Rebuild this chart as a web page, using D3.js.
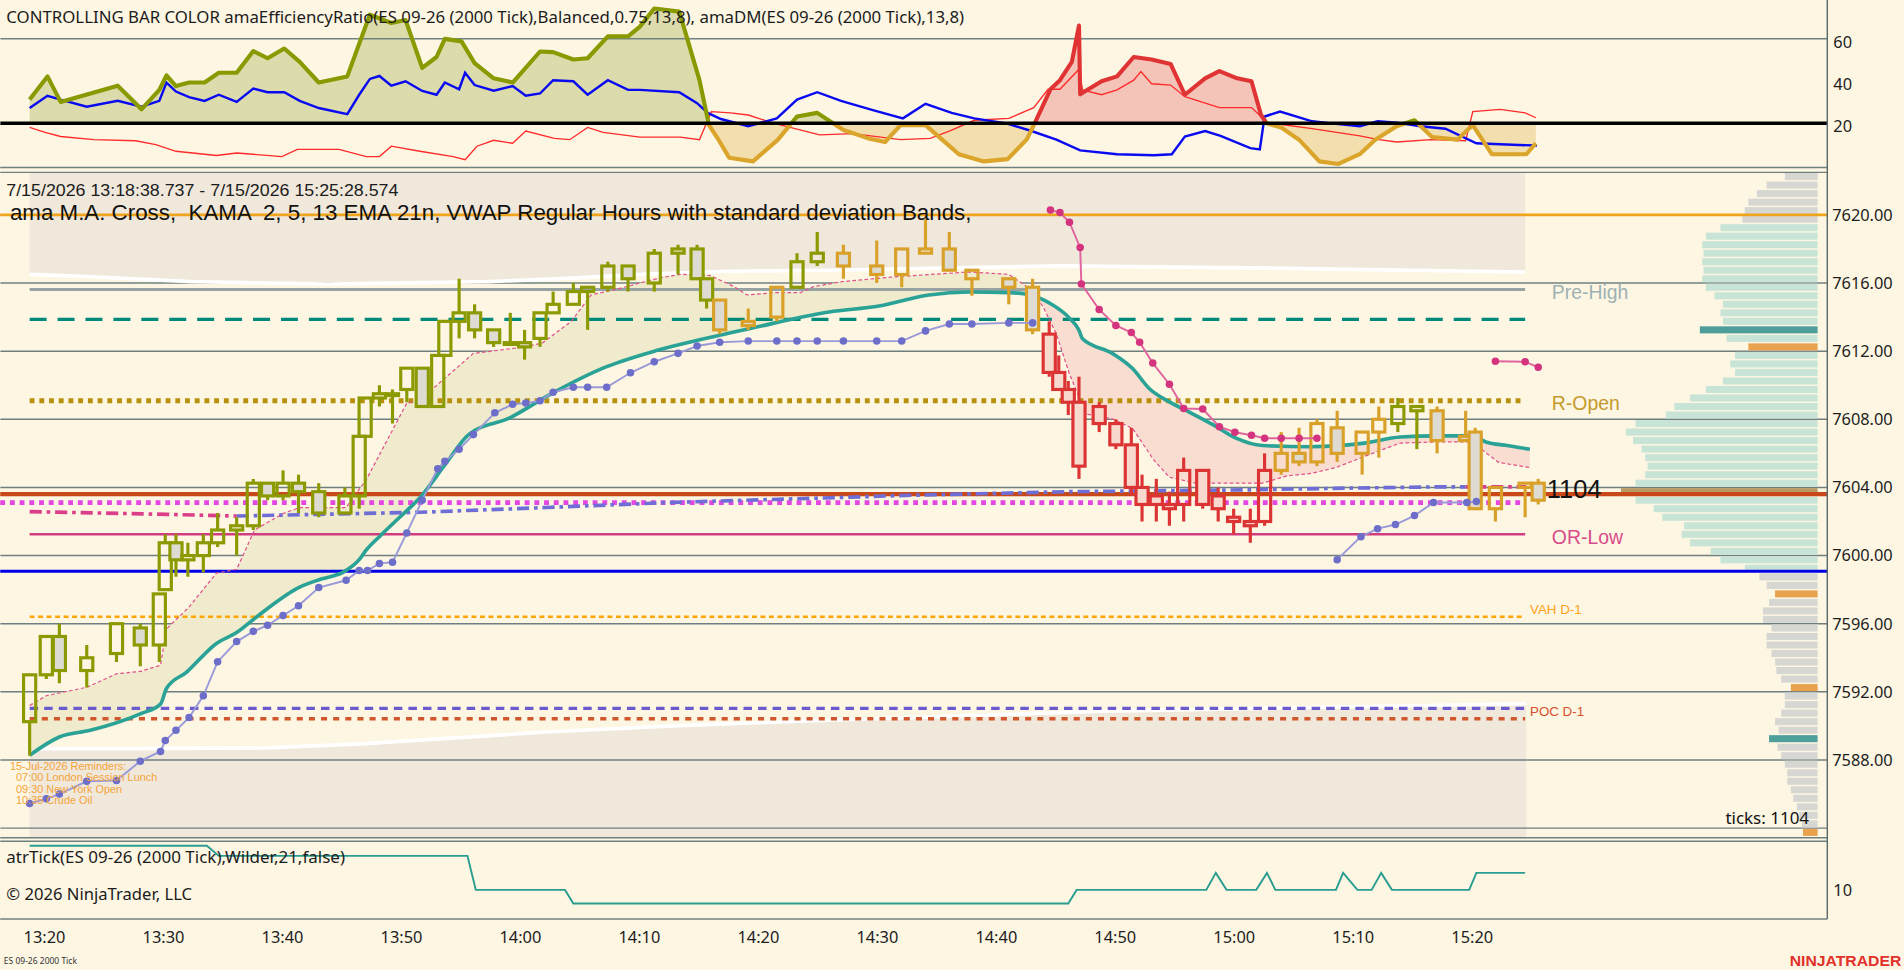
<!DOCTYPE html>
<html>
<head>
<meta charset="utf-8">
<title>ES 09-26 2000 Tick</title>
<script src="https://cdn.jsdelivr.net/npm/d3@7/dist/d3.min.js"></script>
<style>
  html, body { margin: 0; padding: 0; background: #fdf6e3; overflow: hidden; }
  svg { display: block; font-family: 'Noto Sans', 'DejaVu Sans', sans-serif; }
</style>
</head>
<body>
<svg id="chart"></svg>
<script>
// ---- data (time = minutes after 13:00, 7/15/2026) ----
const barTime = [18.8,20.2,21.3,23.6,26.1,28.1,29.7,30.2,31.1,32.1,33.4,34.6,36.2,37.6,38.8,40.1,41.4,43.1,45.3,46.5,
  47.0,48.2,49.3,50.5,51.8,53.1,53.7,54.9,56.2,57.8,59.2,60.4,61.7,62.8,64.5,65.7,67.4,69.1,71.3,73.3,
  74.9,75.7,76.8,79.2,81.6,83.3,85.0,87.2,90.0,92.1,94.1,96.1,98.0,101.1,103.1,104.5,105.3,106.1,107.0,108.7,
  110.1,111.4,112.3,113.5,114.6,115.8,117.4,118.7,120.0,121.4,122.6,124.0,125.5,127.0,128.7,130.8,132.2,133.8,135.4,137.1,
  139.5,140.3,142.0,144.5,145.6];
const barOpen = [7590.25,7593.00,7595.25,7593.25,7594.25,7595.75,7594.75,7598.00,7600.75,7599.75,
  7600.00,7600.75,7601.50,7601.75,7604.25,7603.50,7604.25,7603.75,7602.50,7603.50,
  7607.00,7609.25,7609.50,7609.75,7611.00,7608.75,7611.75,7613.75,7614.25,7613.25,
  7612.50,7612.50,7612.75,7614.25,7614.75,7615.50,7615.75,7617.00,7616.00,7617.75,
  7618.00,7616.25,7615.00,7613.75,7614.00,7615.75,7617.25,7617.75,7617.00,7616.50,
  7617.75,7618.00,7616.25,7616.25,7615.75,7613.00,7610.75,7609.75,7609.00,7608.75,
  7607.75,7606.50,7604.00,7603.50,7603.00,7603.00,7605.00,7603.50,7602.25,7602.00,
  7602.00,7605.00,7606.00,7605.50,7607.50,7606.00,7607.25,7607.75,7608.50,7608.50,
  7607.00,7607.25,7602.75,7604.00,7604.25];
const barHigh = [7593.00,7595.25,7596.00,7594.75,7596.00,7596.00,7597.75,7601.25,7601.25,7600.75,
  7601.25,7602.50,7602.25,7604.50,7604.25,7605.00,7604.75,7604.25,7604.00,7607.00,
  7609.25,7610.00,7609.75,7611.00,7611.00,7611.75,7613.75,7616.25,7614.75,7613.25,
  7614.25,7613.25,7614.25,7615.50,7616.00,7615.75,7617.25,7617.00,7618.00,7618.25,
  7618.25,7616.25,7615.00,7614.50,7615.75,7617.75,7619.00,7618.25,7618.50,7618.00,
  7619.75,7619.00,7616.75,7616.25,7616.25,7613.75,7611.75,7610.25,7610.50,7609.00,
  7608.00,7607.50,7604.75,7604.50,7603.75,7605.75,7605.00,7604.00,7602.75,7602.75,
  7606.00,7607.25,7607.50,7608.00,7608.50,7607.25,7608.75,7609.25,7608.75,7608.75,
  7608.50,7607.50,7604.00,7604.25,7604.50];
const barLow = [7588.25,7592.75,7592.50,7592.25,7593.75,7593.50,7593.75,7598.00,7598.75,7598.75,
  7599.00,7600.50,7600.00,7601.50,7603.25,7603.25,7602.50,7602.25,7602.50,7602.75,
  7607.00,7608.75,7607.75,7609.00,7608.75,7608.75,7611.75,7612.75,7612.75,7612.25,
  7612.50,7611.50,7612.25,7614.25,7614.75,7613.25,7615.50,7615.50,7615.50,7616.50,
  7616.25,7614.50,7613.00,7613.25,7613.75,7615.75,7617.00,7616.25,7616.00,7615.75,
  7617.75,7616.75,7615.25,7614.75,7613.00,7610.50,7609.75,7608.25,7604.50,7607.25,
  7606.25,7603.50,7602.00,7602.00,7601.75,7602.00,7602.75,7602.00,7601.25,7600.75,
  7601.75,7604.75,7605.25,7605.25,7605.50,7604.75,7605.75,7607.25,7606.25,7606.00,
  7606.75,7602.75,7602.00,7602.25,7603.00];
const barClose = [7593.00,7595.25,7593.25,7594.00,7596.00,7594.75,7597.75,7600.75,7599.75,7600.00,
  7600.75,7601.50,7601.75,7604.25,7603.50,7604.25,7603.75,7602.50,7603.50,7607.00,
  7609.25,7609.50,7609.50,7611.00,7608.75,7611.75,7613.75,7614.25,7613.25,7612.50,
  7612.50,7612.25,7614.25,7614.75,7615.50,7615.75,7617.00,7616.25,7617.75,7618.00,
  7616.25,7615.00,7613.25,7613.50,7615.75,7617.25,7617.75,7617.00,7616.50,7618.00,
  7618.00,7616.75,7616.75,7615.75,7613.25,7610.75,7609.75,7609.00,7605.25,7607.75,
  7606.50,7604.00,7603.00,7603.00,7602.75,7605.00,7603.00,7602.75,7602.00,7601.75,
  7605.00,7606.00,7605.50,7607.75,7606.00,7607.25,7608.00,7608.75,7608.75,7606.75,
  7606.75,7602.75,7604.00,7604.25,7603.25];
// bar colour state from the efficiency ratio: u = trending up, n = neutral, d = trending down
const barTrend = ('uuuuuuuuuuuuuuuuuuuuuuuuuuuuuuuuuuuuuuuuuu' + 'nnn' + 'uu' + 'nnnnnnnn' +
  'dddddddddddddddd' + 'nnnnnn' + 'uu' + 'nnnnnn').split('');

// 21 EMA (teal) and KAMA (thin dashed) ribbon
const emaLine = [[18.8,7588.28],[21.3,7589.35],[23.9,7589.74],[28.1,7590.71],[29.8,7591.28],[30.3,7592.20],[32.0,7593.16],
  [34.5,7594.84],[36.2,7595.48],[37.9,7596.41],[41.5,7598.15],[43.3,7598.62],[45.2,7599.04],[46.5,7599.76],[47.1,7600.33],
  [48.3,7601.18],[49.9,7602.25],[51.6,7603.39],[53.7,7605.32],[55.7,7607.10],[59.2,7608.10],[62.7,7609.52],[67.3,7611.09],
  [71.4,7612.02],[75.5,7612.73],[79.6,7613.37],[86.0,7614.30],[90.2,7614.65],[94.4,7615.30],[97.8,7615.47],[101.1,7615.44],
  [102.9,7615.30],[104.5,7614.83],[106.2,7613.94],[107.0,7613.23],[107.3,7612.73],[109.8,7611.87],[111.5,7610.98],
  [112.9,7609.81],[114.6,7609.02],[116.2,7608.45],[118.3,7607.67],[120.2,7606.89],[122.4,7606.46],[126.4,7606.39],
  [131.0,7606.60],[134.0,7606.96],[137.0,7607.03],[140.1,7607.03],[141.2,7606.67],[143.0,7606.46],[144.9,7606.24]];
const kamaLine = [[18.8,7591.20],[20.2,7591.77],[23.6,7592.27],[26.1,7593.06],[28.1,7593.20],[29.8,7593.56],[30.3,7595.69],
  [32.2,7596.98],[34.5,7598.97],[36.2,7599.19],[37.7,7601.50],[40.1,7602.47],[41.5,7602.82],[45.4,7602.82],[47.1,7604.46],
  [50.5,7608.95],[51.6,7609.13],[56.1,7611.87],[60.2,7612.23],[61.9,7612.48],[64.3,7613.73],[66.0,7615.30],[68.2,7615.65],
  [71.7,7616.29],[73.5,7616.51],[76.0,7616.44],[78.0,7615.79],[79.1,7615.30],[81.5,7615.44],[83.6,7615.44],[84.7,7615.79],
  [87.1,7616.08],[91.4,7616.36],[97.8,7616.65],[101.1,7616.51],[102.9,7615.65],[104.0,7614.58],[105.1,7613.01],
  [106.2,7610.66],[107.6,7608.31],[109.8,7608.03],[111.5,7607.46],[113.3,7605.60],[114.6,7604.60],[116.8,7604.25],
  [122.4,7604.25],[124.5,7604.68],[126.5,7604.82],[128.6,7605.17],[132.3,7606.17],[134.0,7606.60],[137.0,7606.67],
  [140.1,7606.67],[141.2,7606.03],[142.3,7605.46],[144.9,7605.17]];

// VWAP and its standard deviation bands
const vwapLine = [[18.8,7602.58],[30.3,7602.42],[36.2,7602.32],[51.6,7602.54],[62.2,7602.82],[72.4,7603.11],[82.7,7603.32],
  [92.9,7603.54],[106.1,7603.75],[121.3,7603.86],[129.7,7603.96],[137.0,7604.03],[139.5,7604.03],[144.6,7604.03]];
const vwapBelowUntil = 36.2, vwapBelowFrom = 139.5;
const vwapUpper = [[18.8,7616.51],[23.2,7616.40],[32.4,7616.08],[43.8,7615.94],[57.4,7616.08],[64.3,7616.29],[70.1,7616.51],
  [77.6,7616.69],[86.0,7616.75],[105.6,7617.01],[121.3,7616.89],[144.5,7616.65]];
const vwapLower = [[18.8,7588.67],[27.6,7588.67],[38.8,7588.71],[47.1,7588.96],[49.9,7589.09],[62.2,7589.64],[72.4,7589.99],
  [83.6,7590.28],[95.9,7590.56],[108.4,7590.85],[124.8,7591.06],[144.6,7591.30]];

// trailing stops
const stopLong1 = [[18.8,7585.45],[20.2,7585.72],[21.3,7586.00],[23.6,7586.75],[26.1,7586.79],[28.1,7587.93],[29.8,7588.50],
  [30.2,7589.14],[31.1,7589.74],[32.2,7590.49],[33.4,7591.77],[34.6,7593.77],[36.2,7594.95],[37.6,7595.55],[38.8,7595.91],
  [40.1,7596.48],[41.4,7597.05],[43.1,7598.12],[45.4,7598.55],[46.5,7599.12],[47.2,7599.12],[48.2,7599.54],[49.3,7599.61],
  [50.5,7601.33],[51.8,7603.25],[53.1,7605.10],[53.7,7605.53],[54.9,7606.24],[56.1,7607.10],[57.9,7608.38],[59.4,7608.88],
  [60.5,7608.95],[61.7,7609.09],[62.8,7609.59],[64.5,7609.88],[65.7,7609.88],[67.3,7609.88],[69.3,7610.73],[71.3,7611.38],
  [73.3,7611.87],[74.9,7612.30],[76.8,7612.52],[79.2,7612.59],[81.6,7612.59],[83.3,7612.59],[85.0,7612.59],[87.2,7612.59],
  [90.0,7612.59],[92.1,7612.59],[94.1,7613.19],[96.1,7613.59],[98.0,7613.59],[101.1,7613.66],[103.1,7613.66]];
const stopLong2 = [[128.7,7599.76],[130.7,7601.11],[132.1,7601.58],[133.6,7601.82],[135.2,7602.35],[136.8,7603.11],
  [139.6,7603.11],[140.4,7603.18]];
const stopShort1 = [[104.6,7620.29],[105.4,7620.14],[106.2,7619.57],[107.1,7618.08],[107.2,7615.94],[108.7,7614.44],
  [110.1,7613.51],[111.4,7613.09],[112.1,7612.52],[113.2,7611.30],[114.6,7610.06],[115.8,7608.63],[117.4,7608.60],
  [118.8,7607.56],[120.1,7607.24],[121.5,7607.06],[122.6,7606.89],[124.0,7606.89],[125.5,7606.89],[127.0,7606.89]];
const stopShort2 = [[142.0,7611.41],[144.5,7611.38],[145.6,7611.05]];

// horizontal reference levels
const sessionStart = 18.8, sessionEnd = 144.5;
const levelKeys   = ['r1','preHigh','pivot','rOpen','s1','vwapD1','orLow','pp','vahD1','val','pocD1'];
const levelPrices = [7620.00,7615.62,7613.87,7609.09,7603.61,7603.11,7601.25,7599.08,7596.41,7591.03,7590.42];
const levelLabels = {preHigh:'Pre-High', rOpen:'R-Open', orLow:'OR-Low', vahD1:'VAH D-1', pocD1:'POC D-1'};

// volume profile (0.5 pt bins)
const vpPrice = [7622.25,7621.75,7621.25,7620.75,7620.25,7619.75,7619.25,7618.75,7618.25,7617.75,
  7617.25,7616.75,7616.25,7615.75,7615.25,7614.75,7614.25,7613.75,7613.25,7612.75,
  7612.25,7611.75,7611.25,7610.75,7610.25,7609.75,7609.25,7608.75,7608.25,7607.75,
  7607.25,7606.75,7606.25,7605.75,7605.25,7604.75,7604.25,7603.75,7603.25,7602.75,
  7602.25,7601.75,7601.25,7600.75,7600.25,7599.75,7599.25,7598.75,7598.25,7597.75,
  7597.25,7596.75,7596.25,7595.75,7595.25,7594.75,7594.25,7593.75,7593.25,7592.75,
  7592.25,7591.75,7591.25,7590.75,7590.25,7589.75,7589.25,7588.75,7588.25,7587.75,
  7587.25,7586.75,7586.25,7585.75,7585.25,7584.75,7584.25,7583.75];
const vpVolume = [27,42,50,57,60,62,80,92,95,94, 95,94,95,92,85,78,80,78,97,75,
  57,68,72,68,78,92,105,118,125,150, 158,152,145,142,140,142,150,162,150,135,
  128,110,112,105,88,80,60,48,42,35, 40,45,45,38,42,42,38,35,34,30,
  22,27,27,30,35,32,40,33,30,27, 25,25,22,20,17,15,13,12];
const vpHigh = 7619.25, vpLow = 7599.25, vpPoc = 7603.75;
const vpTealLevels = [7613.25, 7589.25];
const vpOrangeLevels = [7612.25, 7597.75, 7592.25, 7583.75];

// top panel: amaEfficiencyRatio (thick) and amaDM +/-
const effRatio = [[18.8,31.2],[20.3,42.2],[21.4,30.1],[26.2,37.8],[28.2,26.6],[29.7,35.8],[30.3,42.7],[31.1,37.6],[32.2,39.3],
  [33.5,39.3],[34.7,43.9],[36.2,43.9],[37.6,54.2],[38.8,50.8],[40.2,55.4],[41.5,49.1],[43.1,39.3],[45.5,42.2],[46.5,57.7],
  [47.4,71.5],[49.2,67.5],[50.4,68.9],[51.8,46.2],[53.0,51.4],[53.7,60.0],[55.1,58.8],[56.2,48.5],[57.8,41.3],[59.4,39.3],
  [61.7,54.0],[62.8,53.7],[64.5,50.2],[65.7,50.8],[67.4,61.2],[69.1,61.2],[70.1,65.8],[71.3,74.4],[73.4,72.9],[75.1,40.4],
  [75.9,19.1],[76.7,12.2],[77.6,3.6],[79.6,1.9],[81.7,12.2],[83.3,23.2],[85.0,24.9],[87.2,16.8],[89.3,12.8],[90.7,11.1],
  [92.0,19.1],[94.1,19.1],[95.5,12.2],[96.9,5.3],[99.0,1.9],[101.0,3.0],[102.6,12.2],[103.2,19.1],[104.6,36.1],[105.4,40.4],
  [106.4,49.1],[107.0,66.3],[107.1,33.7],[108.9,39.9],[110.2,42.2],[111.6,51.4],[113.1,50.2],[114.7,48.1],[115.9,33.5],
  [117.6,41.3],[118.8,44.7],[120.3,41.3],[121.5,39.9],[122.3,23.9],[122.8,19.9],[124.0,18.0],[125.5,12.2],[127.2,1.9],
  [128.8,0.7],[130.6,5.3],[131.9,12.2],[133.7,18.6],[135.2,21.4],[136.7,13.4],[138.8,12.2],[140.1,19.1],[141.7,5.3],
  [144.6,5.3],[145.4,10.5]];
const erDownFrom = 103.2, erDownTo = 122.8;
const dmPlus = [[18.8,27.2],[20.3,33.0],[21.4,31.2],[23.6,27.8],[26.2,30.6],[28.2,27.8],[29.7,30.6],[30.3,39.3],[31.1,35.0],
  [32.2,32.4],[33.5,30.6],[34.7,33.5],[36.2,30.1],[37.6,36.4],[38.8,34.7],[40.2,34.7],[41.5,30.6],[43.1,27.2],[45.5,24.3],
  [46.5,33.5],[47.4,41.0],[48.2,42.4],[49.2,37.8],[50.4,39.9],[51.8,35.3],[53.0,33.5],[53.7,39.3],[54.9,36.1],[55.4,43.9],
  [56.2,38.1],[57.8,35.4],[59.4,37.6],[60.5,33.0],[61.7,34.1],[62.8,40.4],[64.5,39.9],[65.7,33.5],[67.4,40.4],[69.1,35.8],
  [70.1,35.8],[73.4,34.7],[74.9,29.5],[75.8,24.9],[76.9,22.0],[79.2,18.6],[81.6,22.3],[83.3,31.2],[85.0,34.7],[87.0,30.6],
  [89.6,26.3],[92.2,22.3],[94.1,29.2],[96.3,24.9],[98.2,22.3],[100.9,19.9],[103.0,16.3],[105.1,12.2],[107.1,7.1],[110.2,5.3],
  [113.3,4.8],[114.8,5.3],[115.9,13.7],[117.6,16.3],[118.9,14.0],[121.4,8.2],[122.2,7.6],[122.6,23.2],[123.9,25.5],
  [126.6,20.9],[128.6,19.7],[130.6,18.6],[132.1,20.9],[133.7,20.3],[135.7,18.6],[137.8,17.4],[140.4,10.5],[142.9,9.9],
  [145.5,9.4]];
const dmMinus = [[18.8,18.0],[20.1,15.7],[21.4,13.7],[24.2,12.2],[27.7,11.7],[29.4,9.9],[31.1,6.7],[34.5,4.7],[36.2,5.9],
  [40.0,4.2],[41.3,7.6],[44.8,7.6],[47.1,4.2],[48.2,4.2],[49.2,9.1],[51.6,6.7],[54.4,4.2],[55.4,2.7],[56.4,9.1],[57.8,11.9],
  [59.4,10.5],[60.5,16.3],[62.9,12.8],[64.2,12.2],[65.7,18.0],[67.0,15.7],[70.1,13.4],[73.5,13.4],[75.1,12.2],[76.1,25.5],
  [77.7,24.9],[79.2,23.9],[81.4,19.9],[85.2,14.5],[88.0,15.1],[92.0,12.2],[94.5,12.8],[96.1,16.3],[98.2,21.4],[101.1,22.3],
  [103.2,27.4],[104.4,36.1],[105.4,36.1],[107.0,45.6],[107.3,35.8],[108.9,33.5],[110.2,35.8],[111.6,40.4],[112.2,44.5],
  [113.1,38.7],[114.7,38.1],[115.9,32.6],[118.8,27.4],[121.5,27.4],[122.3,23.2],[122.8,20.3],[126.6,17.4],[130.6,14.0],
  [132.2,12.2],[133.7,11.1],[136.6,12.2],[139.5,11.7],[140.1,25.5],[142.4,26.6],[144.5,24.9],[145.4,22.6]];

// bottom panel: atrTick
const atrTick = [[18.8,12.6],[33.7,12.6],[34.7,12.0],[55.6,12.0],[56.3,10.0],[63.8,10.0],[64.5,9.2],[106.1,9.2],[106.8,10.0],
  [117.7,10.0],[118.5,11.0],[119.4,10.0],[121.9,10.0],[122.8,11.0],[123.5,10.0],[128.6,10.0],[129.2,11.0],[130.4,10.0],
  [131.6,10.0],[132.4,11.0],[133.3,10.0],[139.8,10.0],[140.4,11.0],[144.5,11.0]];

const priceTicks = [7588,7592,7596,7600,7604,7608,7612,7616,7620];
const gridPrices = [7584,7588,7592,7596,7600,7604,7608,7612,7616,7620];
const topTicks = [20,40,60];
const atrTicks = [10];
const lastTicks = 1104, lastPrice = 7603.9;

// ---- layout ----
const W = 1568, H = 799, AX = 1505;
const TOP_B = 138, MAIN_T = 142, MAIN_B = 690, BOT_T = 693, BOT_B = 757;
const day = new Date(2026, 6, 15, 13, 0, 0).getTime();
const T = m => new Date(day + m * 60000);

const svg = d3.select('#chart').attr('width', 1904).attr('height', 970).attr('viewBox', `0 0 ${W} ${H}`);
svg.append('rect').attr('width', W).attr('height', H).attr('fill', '#fdf6e3');

const x = d3.scaleTime().domain([T(20), T(140)]).range([36, 1212]);
const X = m => x(T(m));
const y = d3.scaleLinear().domain([7588, 7620]).range([626, 177]);
const yTop = d3.scaleLinear().domain([20, 60]).range([101.5, 32]);
const yAtr = d3.scaleLinear().domain([10, 11]).range([733, 719]);
const xVol = d3.scaleLinear().domain([0, d3.max(vpVolume)]).range([1497, 1335]);

const defs = svg.append('defs');
function clip(id, rects) {
  const cp = defs.append('clipPath').attr('id', id);
  rects.forEach(r => cp.append('rect').attr('x', r[0]).attr('y', r[1]).attr('width', r[2] - r[0]).attr('height', r[3] - r[1]));
}
const y20 = yTop(20);
clip('cTop', [[0, 0, AX, TOP_B]]);
clip('cMain', [[0, MAIN_T, AX, MAIN_B]]);
clip('cBot', [[0, BOT_T, AX, BOT_B]]);
clip('cBelow20', [[0, y20, AX, TOP_B]]);
clip('cOlive', [[0, 0, X(erDownFrom), y20], [X(erDownTo), 0, AX, y20]]);
clip('cRed', [[X(erDownFrom), 0, X(erDownTo), y20]]);

const hline = (g, yy, x0, x1, col, w, dash) => g.append('line').attr('x1', x0).attr('x2', x1).attr('y1', yy).attr('y2', yy)
  .attr('stroke', col).attr('stroke-width', w).attr('stroke-dasharray', dash || null);

// ---- top panel ----
const gTop = svg.append('g').attr('clip-path', 'url(#cTop)');
const erArea = d3.area().x(d => X(d[0])).y0(y20).y1(d => yTop(d[1]));
const topLine = d3.line().x(d => X(d[0])).y(d => yTop(d[1]));
gTop.append('path').datum(effRatio).attr('d', erArea).attr('fill', '#f3dfae').attr('clip-path', 'url(#cBelow20)');
gTop.append('path').datum(effRatio).attr('d', erArea).attr('fill', '#dcdbab').attr('clip-path', 'url(#cOlive)');
gTop.append('path').datum(effRatio).attr('d', erArea).attr('fill', '#f3c4b7').attr('clip-path', 'url(#cRed)');
hline(gTop, yTop(60), 0, AX, '#6f8283', 1.2);
gTop.append('path').datum(dmMinus).attr('d', topLine).attr('fill', 'none').attr('stroke', '#ff2a2a').attr('stroke-width', 1.1);
gTop.append('path').datum(dmPlus).attr('d', topLine).attr('fill', 'none').attr('stroke', '#0a0af0').attr('stroke-width', 2);
[['cBelow20', '#daa52a'], ['cOlive', '#899900'], ['cRed', '#e03434']].forEach(([c, col]) => {
  gTop.append('path').datum(effRatio).attr('d', topLine).attr('fill', 'none').attr('stroke', col)
    .attr('stroke-width', 3.4).attr('stroke-linejoin', 'round').attr('clip-path', `url(#${c})`);
});
hline(gTop, y20, 0, AX, '#000', 3);
svg.append('text').attr('x', 5).attr('y', 19).attr('font-size', 14).attr('fill', '#1c1c1c').attr('textLength', 789)
  .attr('lengthAdjust', 'spacingAndGlyphs')
  .text('CONTROLLING BAR COLOR amaEfficiencyRatio(ES 09-26 (2000 Tick),Balanced,0.75,13,8), amaDM(ES 09-26 (2000 Tick),13,8)');

// ---- main panel ----
const gMain = svg.append('g').attr('clip-path', 'url(#cMain)');
const mainLine = d3.line().x(d => X(d[0])).y(d => y(d[1]));
// VWAP deviation band shading
gMain.append('path').datum(vwapUpper).attr('d', d3.area().x(d => X(d[0])).y0(MAIN_T).y1(d => y(d[1]))).attr('fill', '#efe8db');
gMain.append('path').datum(vwapLower).attr('d', d3.area().x(d => X(d[0])).y0(d => y(d[1])).y1(MAIN_B)).attr('fill', '#efe8db');
// grid
gMain.append('g').selectAll('line').data(gridPrices).join('line')
  .attr('x1', 0).attr('x2', AX).attr('y1', d => y(d)).attr('y2', d => y(d)).attr('stroke', '#6f7f80').attr('stroke-width', 1.2);
[vwapUpper, vwapLower].forEach(b => gMain.append('path').datum(b).attr('d', mainLine).attr('fill', 'none')
  .attr('stroke', '#ffffff').attr('stroke-width', 3));

// volume profile
const vp = vpPrice.map((p, i) => ({p, v: vpVolume[i]}));
gMain.append('g').selectAll('rect').data(vp).join('rect')
  .attr('x', d => xVol(d.v)).attr('width', d => xVol(0) - xVol(d.v))
  .attr('y', d => y(d.p) - 2.9).attr('height', 5.8)
  .attr('fill', d => d.p === vpPoc ? '#b89a62'
    : vpTealLevels.includes(d.p) ? '#4e9e9c'
    : vpOrangeLevels.includes(d.p) ? '#e8a24e'
    : (d.p <= vpHigh && d.p >= vpLow) ? '#c8e4d6' : '#d6d6d3');

// ribbon between KAMA and EMA
const ribbonPts = kamaLine.map(d => [X(d[0]), y(d[1])]).concat(emaLine.slice().reverse().map(d => [X(d[0]), y(d[1])]));
const ribbonD = 'M' + ribbonPts.map(p => p.join(',')).join('L') + 'Z';
defs.append('clipPath').attr('id', 'cAboveEma').append('path').datum(emaLine)
  .attr('d', d3.area().x(d => X(d[0])).y0(MAIN_T).y1(d => y(d[1])));
defs.append('clipPath').attr('id', 'cBelowEma').append('path').datum(emaLine)
  .attr('d', d3.area().x(d => X(d[0])).y0(d => y(d[1])).y1(MAIN_B));
gMain.append('path').attr('d', ribbonD).attr('fill', '#f0ebcc').attr('clip-path', 'url(#cAboveEma)');
gMain.append('path').attr('d', ribbonD).attr('fill', '#f9ddd0').attr('clip-path', 'url(#cBelowEma)');

// levels
const levelStyle = {
  r1:      {c: '#f0a41c', w: 2.2, full: true},
  preHigh: {c: '#97a2a2', w: 2.6, lc: '#9fb1b3'},
  pivot:   {c: '#00897b', w: 2.6, dash: '14,9'},
  rOpen:   {c: '#b8900c', w: 4, dash: '4,4', lc: '#c49a2c'},
  s1:      {c: '#c9481a', w: 3.5, full: true},
  vwapD1:  {c: '#e346e3', w: 4, dash: '4,4', left: true},
  orLow:   {c: '#d23c80', w: 2, lc: '#d84b8a'},
  pp:      {c: '#0000e8', w: 2.5, full: true},
  vahD1:   {c: '#ffa500', w: 2, dash: '4,3', lc: '#ffa31a', small: true},
  val:     {c: '#6a5acd', w: 2.5, dash: '7,5'},
  pocD1:   {c: '#d0582c', w: 3, dash: '5,5', lc: '#d8502a', small: true}
};
const gLv = svg.append('g');
levelKeys.forEach((k, i) => {
  const s = levelStyle[k], yy = y(levelPrices[i]);
  const x0 = (s.full || s.left) ? 0 : X(sessionStart);
  const x1 = s.full ? AX : X(sessionEnd);
  hline(gLv, yy, x0, x1, s.c, s.w, s.dash);
  if (levelLabels[k]) {
    gLv.append('text').attr('x', s.small ? X(sessionEnd) + 4 : X(sessionEnd) + 22)
      .attr('y', s.small ? yy - 6 : yy + 2).attr('dominant-baseline', 'central')
      .attr('font-family', s.small ? "'Liberation Sans Narrow', 'Liberation Sans', sans-serif" : "'Liberation Sans', sans-serif")
      .attr('font-size', s.small ? 11 : 16).attr('fill', s.lc).text(levelLabels[k]);
  }
});

// VWAP dash-dot
const gV = svg.append('g').attr('clip-path', 'url(#cMain)');
const vwapBlue = vwapLine.filter(d => d[0] >= vwapBelowUntil && d[0] <= vwapBelowFrom);
const vwapPinkA = vwapLine.filter(d => d[0] <= vwapBelowUntil);
const vwapPinkB = vwapLine.filter(d => d[0] >= vwapBelowFrom);
[[vwapBlue, '#6e6ed6'], [vwapPinkA, '#dc3f8a'], [vwapPinkB, '#dc3f8a']].forEach(([d, c]) =>
  gV.append('path').datum(d).attr('d', mainLine).attr('fill', 'none').attr('stroke', c)
    .attr('stroke-width', 3).attr('stroke-dasharray', '10,4,3,4'));

// EMA + KAMA
gV.append('path').datum(emaLine).attr('d', mainLine.curve(d3.curveMonotoneX)).attr('fill', 'none')
  .attr('stroke', '#2aa296').attr('stroke-width', 3);
mainLine.curve(d3.curveLinear);
gV.append('path').datum(kamaLine).attr('d', mainLine).attr('fill', 'none')
  .attr('stroke', '#e0508c').attr('stroke-width', 1).attr('stroke-dasharray', '3,2');

// candles
const trendColor = {u: '#8a9a00', n: '#d9a12a', d: '#dc3434'};
const bars = barTime.map((t, i) => ({t, o: barOpen[i], h: barHigh[i], l: barLow[i], c: barClose[i], k: barTrend[i]}));
const cw = 10;
const gBars = gV.append('g').selectAll('g').data(bars).join('g');
gBars.each(function (b) {
  const g = d3.select(this);
  const cx = X(b.t), top = y(Math.max(b.o, b.c)), bot = Math.max(y(Math.min(b.o, b.c)), top + 1.5);
  const col = trendColor[b.k], down = b.c < b.o;
  g.append('line').attr('x1', cx).attr('x2', cx).attr('y1', y(b.h)).attr('y2', top).attr('stroke', col).attr('stroke-width', 2.6);
  g.append('line').attr('x1', cx).attr('x2', cx).attr('y1', bot).attr('y2', y(b.l)).attr('stroke', col).attr('stroke-width', 2.6);
  g.append('rect').attr('x', cx - cw / 2).attr('y', top).attr('width', cw).attr('height', bot - top)
    .attr('fill', down ? (b.k === 'd' ? '#f8d9cd' : '#dedcd2') : 'none')
    .attr('stroke', col).attr('stroke-width', 2.6);
});

// trailing stop dots
function dotLine(data, lineCol, dotCol) {
  gV.append('path').datum(data).attr('d', mainLine).attr('fill', 'none').attr('stroke', lineCol).attr('stroke-width', 1.6);
  gV.append('g').selectAll('circle').data(data).join('circle')
    .attr('cx', d => X(d[0])).attr('cy', d => y(d[1])).attr('r', 3.1).attr('fill', dotCol);
}
dotLine(stopLong1, '#9a9ad8', '#6d6dca');
dotLine(stopLong2, '#9a9ad8', '#6d6dca');
dotLine(stopShort1, '#e0649e', '#d4347e');
dotLine(stopShort2, '#e0649e', '#d4347e');

// main panel texts
const headFont = "'Liberation Sans', 'Noto Sans', sans-serif";
svg.append('text').attr('x', 5).attr('y', 161.5).attr('font-size', 13).attr('font-family', headFont).attr('fill', '#1c1c1c')
  .attr('textLength', 323).attr('lengthAdjust', 'spacingAndGlyphs')
  .text('7/15/2026 13:18:38.737 - 7/15/2026 15:25:28.574');
svg.append('text').attr('x', 8).attr('y', 181.5).attr('font-size', 17.5).attr('font-family', headFont).attr('fill', '#111')
  .style('white-space', 'pre').attr('textLength', 792).attr('lengthAdjust', 'spacingAndGlyphs')
  .text('ama M.A. Cross,  KAMA  2, 5, 13 EMA 21n, VWAP Regular Hours with standard deviation Bands,');
svg.append('text').attr('x', X(145.6) + 7).attr('y', y(lastPrice)).attr('dominant-baseline', 'central')
  .attr('font-family', "'Liberation Sans', sans-serif").attr('font-size', 21).attr('fill', '#111').text(lastTicks);
svg.append('text').attr('x', 1490).attr('y', 673).attr('text-anchor', 'end').attr('dominant-baseline', 'central')
  .attr('font-size', 14).attr('fill', '#111').text('ticks: ' + lastTicks);
const reminders = ['15-Jul-2026 Reminders:', '07:00 London Session Lunch', '09:30 New York Open', '10:35 Crude Oil'];
svg.append('g').selectAll('text').data(reminders).join('text')
  .attr('x', (d, i) => i ? 13 : 8).attr('y', (d, i) => 634 + i * 9.4).attr('font-size', 9)
  .attr('font-family', "'Liberation Sans', sans-serif").attr('fill', '#f5a43a').text(d => d);

// ---- bottom panel ----
const gBot = svg.append('g').attr('clip-path', 'url(#cBot)');
gBot.append('path').datum(atrTick).attr('d', d3.line().x(d => X(d[0])).y(d => yAtr(d[1])))
  .attr('fill', 'none').attr('stroke', '#2a9d90').attr('stroke-width', 1.6);
svg.append('text').attr('x', 5).attr('y', 711).attr('font-size', 13.5).attr('fill', '#1c1c1c')
  .attr('textLength', 279).attr('lengthAdjust', 'spacingAndGlyphs').text('atrTick(ES 09-26 (2000 Tick),Wilder,21,false)');
svg.append('text').attr('x', 5).attr('y', 741).attr('font-size', 13.5).attr('fill', '#1c1c1c')
  .attr('textLength', 153).attr('lengthAdjust', 'spacingAndGlyphs').text('© 2026 NinjaTrader, LLC');

// ---- frame, separators, axes ----
const gF = svg.append('g');
[TOP_B, MAIN_T, MAIN_B, BOT_T, BOT_B].forEach(v => hline(gF, v, 0, AX, '#6f8081', 1.2));
gF.append('line').attr('x1', AX).attr('x2', AX).attr('y1', 0).attr('y2', BOT_B).attr('stroke', '#5d6b6c').attr('stroke-width', 1.2);

function styleAxis(g) {
  g.select('.domain').remove();
  g.attr('font-family', "'Noto Sans', 'DejaVu Sans', sans-serif").attr('font-size', 13.5);
  g.selectAll('text').attr('fill', '#1e1e1e');
}
svg.append('g').attr('transform', `translate(${AX},0)`)
  .call(d3.axisRight(y).tickValues(priceTicks).tickFormat(d3.format('.2f')).tickSize(0).tickPadding(4)).call(styleAxis);
svg.append('g').attr('transform', `translate(${AX},2.5)`)
  .call(d3.axisRight(yTop).tickValues(topTicks).tickFormat(d3.format('d')).tickSize(0).tickPadding(5)).call(styleAxis);
svg.append('g').attr('transform', `translate(${AX},0)`)
  .call(d3.axisRight(yAtr).tickValues(atrTicks).tickFormat(d3.format('d')).tickSize(0).tickPadding(5)).call(styleAxis);
svg.append('g').attr('transform', 'translate(0,767)')
  .call(d3.axisBottom(x).ticks(d3.timeMinute.every(10)).tickFormat(d3.timeFormat('%H:%M')).tickSize(0).tickPadding(0))
  .call(styleAxis);

svg.append('text').attr('x', 3).attr('y', 794).attr('font-size', 7).attr('fill', '#333').text('ES 09-26 2000 Tick');
svg.append('text').attr('x', 1474).attr('y', 796).attr('font-size', 12).attr('font-weight', 'bold')
  .attr('font-family', "'Liberation Sans', sans-serif").attr('fill', '#e2302a')
  .attr('textLength', 92).attr('lengthAdjust', 'spacingAndGlyphs').text('NINJATRADER');
</script>
</body>
</html>
